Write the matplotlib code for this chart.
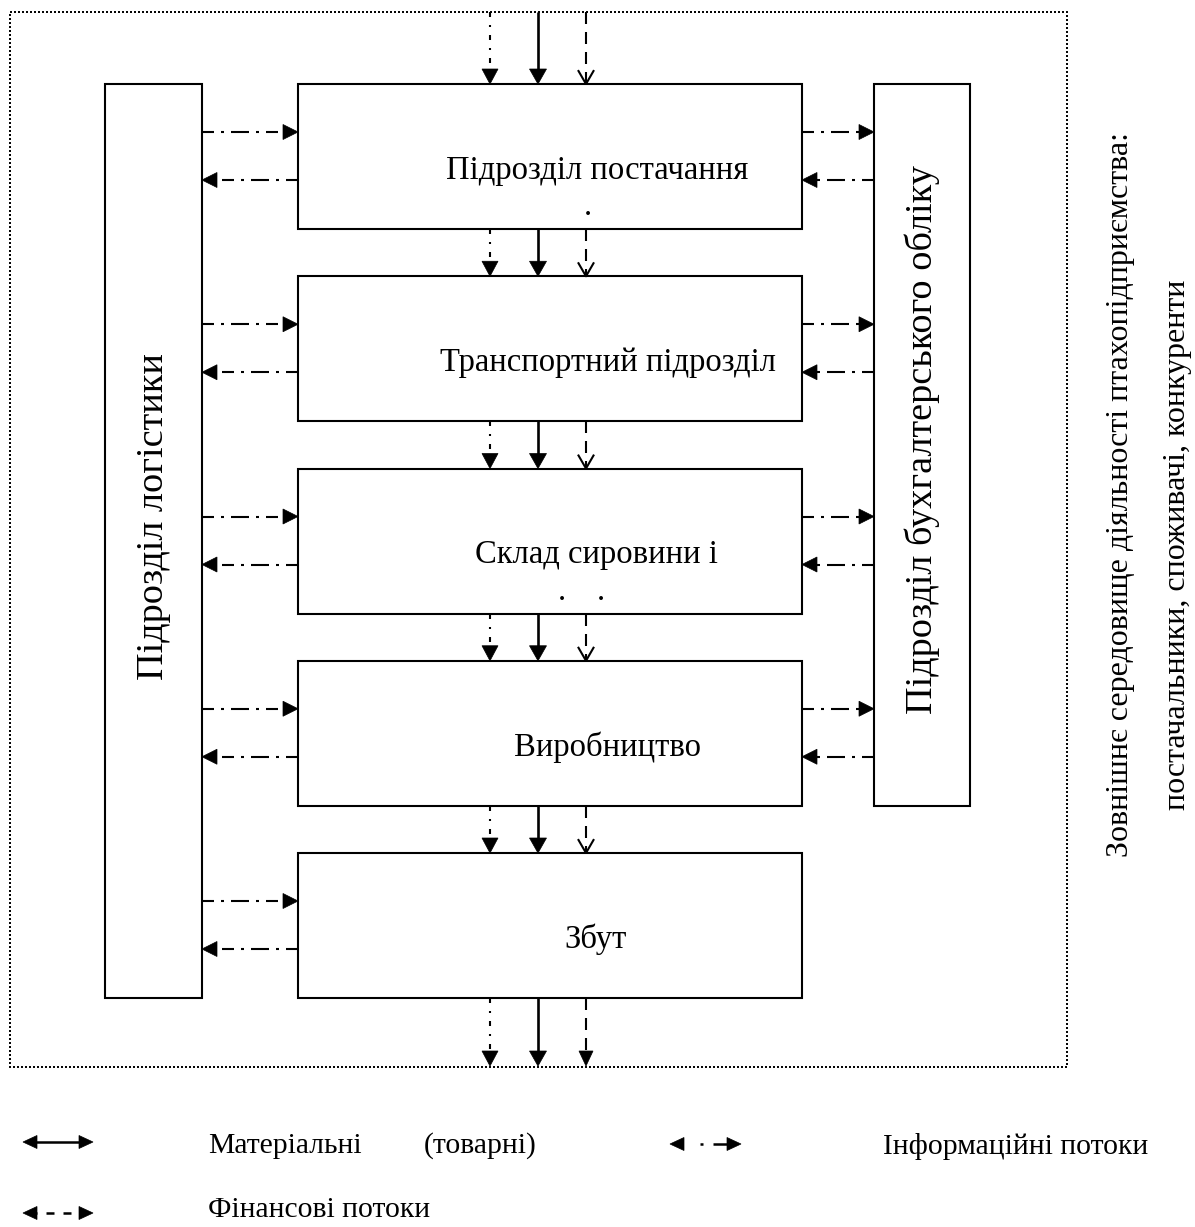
import matplotlib
matplotlib.use("Agg")
import matplotlib.pyplot as plt
from matplotlib.patches import Rectangle, Polygon

plt.rcParams['font.family'] = ['Liberation Serif', 'DejaVu Serif']
plt.rcParams['lines.scale_dashes'] = False

# ==========================================
# diagram content
# ==========================================
units = ["Підрозділ постачання", "Транспортний підрозділ", "Склад сировини і",
         "Виробництво", "Збут"]
logistics_label = "Підрозділ логістики"
accounting_label = "Підрозділ бухгалтерського обліку"
environment_lines = ["Зовнішнє середовище діяльності птахопідприємства:",
                     "постачальники, споживачі, конкуренти"]
flows = ["info", "material", "finance"]
legend_material = ["Матеріальні", "(товарні)"]
legend_info = "Інформаційні потоки"
legend_finance = "Фінансові потоки"

# ==========================================
# layout (pixel space, y goes down)
# ==========================================
W, H = 1195, 1227
PX = 0.72                      # points per pixel at dpi 100
FS_BOX, FS_SIDE, FS_ENV, FS_LEG = 23.5, 27.5, 23, 21.3

BORDER = (10, 12, 1067, 1067)  # x0, y0, x1, y1
BOX_X0, BOX_X1 = 298, 802
BOX_TOP0, BOX_STEP, BOX_H = 84, 192.25, 145
LEFT_BOX = (105, 202)
RIGHT_BOX = (874, 970)
FLOW_X = {"info": 490, "material": 538, "finance": 586}
TEXT_X = [597, 608, 596, 608, 596]
DOTS = [(0, 588), (2, 562), (2, 601)]   # stray "." left in the boxes


def px(*v):
    return tuple(a * PX for a in v)


VERT_STYLE = {"info": (0, px(5, 8, 2, 8)), "material": "-", "finance": (0, px(12, 8))}
HOR_INFO = (0, px(12, 7, 3, 7, 18, 7, 3, 7))

fig = plt.figure(figsize=(W / 100, H / 100), dpi=100)
ax = fig.add_axes([0, 0, 1, 1])
ax.set_xlim(0, W)
ax.set_ylim(H, 0)
ax.axis('off')


def head(tip, d, length, width, filled=True):
    tx, ty = tip
    dx, dy = d
    bx, by = tx - length * dx, ty - length * dy
    nx, ny = -dy * width / 2, dx * width / 2
    pts = [(tx, ty), (bx + nx, by + ny), (bx - nx, by - ny)]
    if filled:
        ax.add_patch(Polygon(pts, closed=True, fc='black', ec='black', lw=0.5, zorder=3))
    else:
        ax.plot([pts[1][0], tx, pts[2][0]], [pts[1][1], ty, pts[2][1]],
                color='black', lw=1.5, zorder=3)


def arrow(x0, y0, x1, y1, style, lw=1.5, hl=15, hw=15, filled=True):
    L = ((x1 - x0) ** 2 + (y1 - y0) ** 2) ** 0.5
    d = ((x1 - x0) / L, (y1 - y0) / L)
    cut = hl - 1 if filled else 0
    ax.plot([x0, x1 - cut * d[0]], [y0, y1 - cut * d[1]], color='black', lw=lw,
            linestyle=style, solid_capstyle='butt', dash_capstyle='butt')
    head((x1, y1), d, hl, hw, filled)


def vertical_set(y0, y1, last=False):
    for f in flows:
        x = FLOW_X[f]
        if f == "material":
            arrow(x, y0, x, y1, "-", lw=1.9, hl=15, hw=17)
        elif f == "info":
            arrow(x, y0, x, y1, VERT_STYLE[f], lw=1.5, hl=15, hw=16)
        else:
            arrow(x, y0, x, y1, VERT_STYLE[f], lw=1.5, hl=15 if last else 13,
                  hw=14 if last else 15, filled=last)


# outer dotted border = external environment
bx0, by0, bx1, by1 = BORDER
ax.add_patch(Rectangle((bx0, by0), bx1 - bx0, by1 - by0, fill=False, ec='black',
                       lw=1.4, linestyle=(0, px(2, 2))))

# side units
ax.add_patch(Rectangle((LEFT_BOX[0], BOX_TOP0), LEFT_BOX[1] - LEFT_BOX[0],
                       4 * BOX_STEP + BOX_H, fill=False, ec='black', lw=1.5))
ax.add_patch(Rectangle((RIGHT_BOX[0], BOX_TOP0), RIGHT_BOX[1] - RIGHT_BOX[0],
                       3 * BOX_STEP + BOX_H, fill=False, ec='black', lw=1.5))
ax.text(sum(LEFT_BOX) / 2, 517, logistics_label, rotation=90, ha='center',
        va='center', fontsize=FS_SIDE)
ax.text(sum(RIGHT_BOX) / 2, 440, accounting_label, rotation=90, ha='center',
        va='center', fontsize=FS_SIDE)

# main chain of units
tops = [BOX_TOP0 + i * BOX_STEP for i in range(len(units))]
for i, (name, top) in enumerate(zip(units, tops)):
    ax.add_patch(Rectangle((BOX_X0, top), BOX_X1 - BOX_X0, BOX_H, fill=False,
                           ec='black', lw=1.5))
    ax.text(TEXT_X[i], top + BOX_H / 2 + 14, name, ha='center', va='center',
            fontsize=FS_BOX)
    # information exchange with logistics
    arrow(LEFT_BOX[1], top + 48, BOX_X0, top + 48, HOR_INFO)
    arrow(BOX_X0, top + 96, LEFT_BOX[1], top + 96, HOR_INFO)
    # information exchange with accounting
    if i < len(units) - 1:
        arrow(BOX_X1, top + 48, RIGHT_BOX[0], top + 48, HOR_INFO)
        arrow(RIGHT_BOX[0], top + 96, BOX_X1, top + 96, HOR_INFO)

for bi, x in DOTS:
    ax.text(x, tops[bi] + 131, ".", ha='center', va='baseline', fontsize=FS_BOX)

# flows entering, passing and leaving the chain
vertical_set(by0, tops[0])
for a, b in zip(tops[:-1], tops[1:]):
    vertical_set(a + BOX_H, b)
vertical_set(tops[-1] + BOX_H, by1 - 1, last=True)

# environment caption on the right
ax.text(1121, 132, environment_lines[0], rotation=90, rotation_mode='anchor',
        ha='right', va='center', fontsize=FS_ENV)
ax.text(1178, 280, environment_lines[1], rotation=90, rotation_mode='anchor',
        ha='right', va='center', fontsize=FS_ENV)


# legend
def double_arrow(x0, x1, y, style, lw=1.8):
    ax.plot([x0 + 12, x1 - 12], [y, y], color='black', lw=lw, linestyle=style,
            solid_capstyle='butt', dash_capstyle='butt')
    head((x0, y), (-1, 0), 14, 13)
    head((x1, y), (1, 0), 14, 13)


double_arrow(23, 93, 1142, "-")
double_arrow(23, 93, 1213, (px(6)[0], px(8, 9)))
double_arrow(670, 741, 1144, (px(43)[0], px(3, 10, 30, 18)))
ax.text(208, 1146, legend_material[0], ha='left', va='center', fontsize=FS_LEG)
ax.text(424, 1146, legend_material[1], ha='left', va='center', fontsize=FS_LEG)
ax.text(883, 1146, legend_info, ha='left', va='center', fontsize=FS_LEG)
ax.text(208, 1210, legend_finance, ha='left', va='center', fontsize=FS_LEG)

fig.savefig("out.png", dpi=100)
